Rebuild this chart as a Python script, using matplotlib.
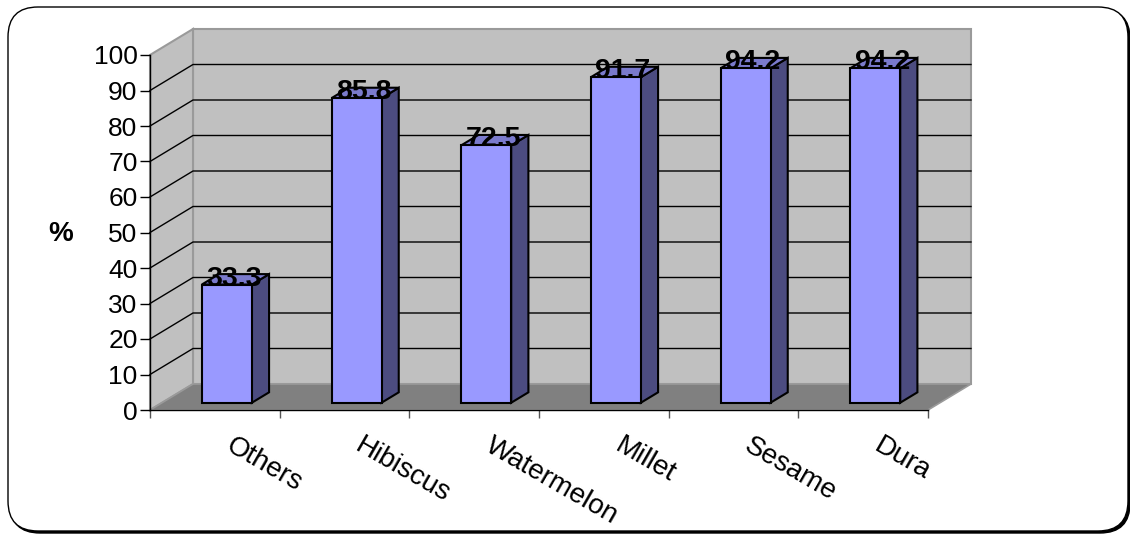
import numpy as np
import matplotlib
matplotlib.use("Agg")
import matplotlib.pyplot as plt
from matplotlib.patches import Polygon, FancyBboxPatch

plt.rcParams['font.family'] = ['Liberation Sans', 'DejaVu Sans']

# Crops and share of farmers (%)
crops = ['Others', 'Hibiscus', 'Watermelon', 'Millet', 'Sesame', 'Dura']
percent = [33.3, 85.8, 72.5, 91.7, 94.2, 94.2]
y_ticks = list(range(0, 101, 10))

fig = plt.figure(figsize=(11.3, 5.35), dpi=100)

# rounded frame with a drop shadow
shadow = FancyBboxPatch((0.10, 0.02), 11.20, 5.24, boxstyle="round,pad=0,rounding_size=0.3",
                        transform=fig.dpi_scale_trans, fc='black', ec='black', lw=1, zorder=-2)
frame = FancyBboxPatch((0.08, 0.04), 11.20, 5.24, boxstyle="round,pad=0,rounding_size=0.3",
                       transform=fig.dpi_scale_trans, fc='white', ec='black', lw=1, zorder=-1)
fig.patches.extend([shadow, frame])

ax = fig.add_axes([150 / 1130, 125 / 535, 778 / 1130, 355 / 535])
ax.set_xlim(0, len(crops))
ax.set_ylim(0, 100)
ax.patch.set_visible(False)

# depth of the 3d box, in data units
px_x = len(crops) / 778
px_y = 100 / 355
DX, DY = 43 * px_x, 26 * px_y


def pt(x, y, f=0.0):
    return (x + f * DX, y + f * DY)


n = len(crops)
wall_ec = '#9a9a9a'
# back wall
ax.add_patch(Polygon([pt(0, 0, 1), pt(n, 0, 1), pt(n, 100, 1), pt(0, 100, 1)],
                     closed=True, fc='#c0c0c0', ec=wall_ec, lw=1.5, zorder=0, clip_on=False))
# side wall
ax.add_patch(Polygon([pt(0, 0), pt(0, 100), pt(0, 100, 1), pt(0, 0, 1)],
                     closed=True, fc='#c0c0c0', ec=wall_ec, lw=1.5, zorder=0, clip_on=False))
# gridlines on both walls
for v in y_ticks[1:-1]:
    xs, ys = zip(pt(0, v), pt(0, v, 1), pt(n, v, 1))
    ax.plot(xs, ys, color='black', lw=1, zorder=0.5, clip_on=False)
# floor
ax.add_patch(Polygon([pt(0, 0), pt(n, 0), pt(n, 0, 1), pt(0, 0, 1)],
                     closed=True, fc='#808080', ec=wall_ec, lw=1.2, zorder=1, clip_on=False))

# bars
bw = 50 * px_x
f0, fd = 0.28, 0.4
for i, v in enumerate(percent):
    x0 = i + 0.5 - bw / 2 + f0 * DX
    y0 = f0 * DY
    x1 = x0 + bw
    front = [(x0, y0), (x1, y0), (x1, y0 + v), (x0, y0 + v)]
    side = [(x1, y0), pt(x1, y0, fd), pt(x1, y0 + v, fd), (x1, y0 + v)]
    top = [(x0, y0 + v), (x1, y0 + v), pt(x1, y0 + v, fd), pt(x0, y0 + v, fd)]
    ax.add_patch(Polygon(side, closed=True, fc='#4c4c80', ec='black', lw=1.5, zorder=3, clip_on=False))
    ax.add_patch(Polygon(top, closed=True, fc='#7a7acc', ec='black', lw=1.5, zorder=3, clip_on=False))
    ax.add_patch(Polygon(front, closed=True, fc='#9999ff', ec='black', lw=1.5, zorder=3, clip_on=False))
    ax.text((x0 + x1) / 2 + 7 * px_x, y0 + v - 0.3, f'{v:.1f}', ha='center', va='baseline',
            fontsize=20.5, fontweight='bold', zorder=5, clip_on=False)

# axes
for s in ['top', 'right']:
    ax.spines[s].set_visible(False)
for s in ['left', 'bottom']:
    ax.spines[s].set_color('black')
    ax.spines[s].set_linewidth(1)
ax.set_yticks(y_ticks)
ax.tick_params(axis='y', direction='out', length=7, width=1, labelsize=19, pad=2)
ax.set_xticks(range(n + 1))
ax.set_xticklabels([])
ax.tick_params(axis='x', direction='out', length=6, width=1, color='#555555')

for i, name in enumerate(crops):
    ax.annotate(name, xy=(i + 0.5, 0), xytext=(14, -16), textcoords='offset points',
                rotation=-30, rotation_mode='anchor', ha='left', va='top', fontsize=20)

fig.text(61 / 1130, 1 - 234 / 535, '%', ha='center', va='center', fontsize=20, fontweight='bold')

fig.savefig('out.png', dpi=100)
